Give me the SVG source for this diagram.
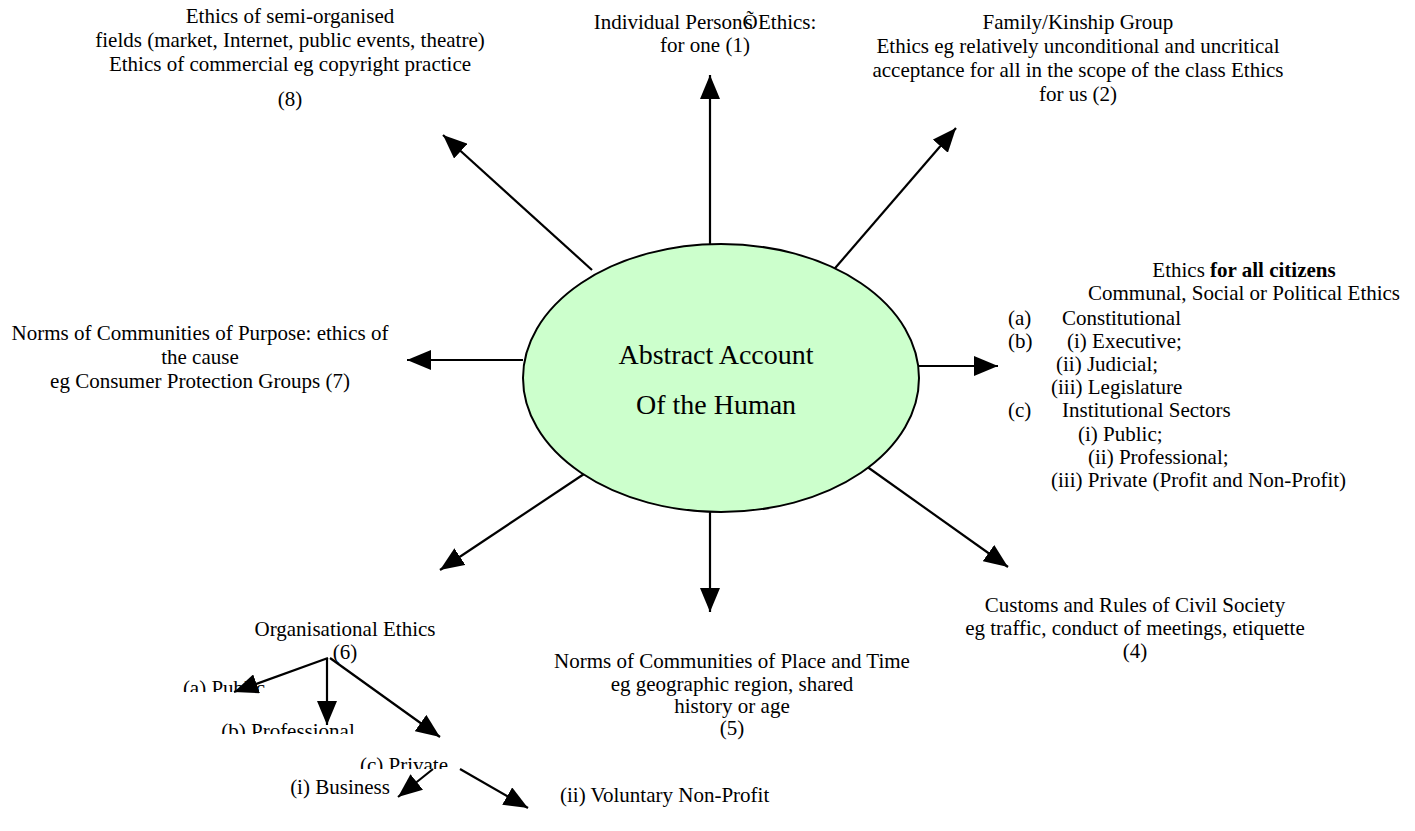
<svg xmlns="http://www.w3.org/2000/svg" width="1415" height="831" viewBox="0 0 1415 831">
<style>
text{font-family:"Liberation Serif","Times New Roman",serif;font-size:21px;fill:#000}
.c{text-anchor:middle}
.big{font-size:28px}
.ln{stroke:#000;stroke-width:2.2;fill:none;marker-end:url(#ah)}
</style>
<defs>
<marker id="ah" markerUnits="userSpaceOnUse" viewBox="0 0 24 20" markerWidth="24" markerHeight="20" refX="24" refY="10" orient="auto">
<path d="M0,0 L24,10 L0,20 Z" fill="#000"/>
</marker>
<clipPath id="cpA"><rect x="150" y="670" width="160" height="22"/></clipPath>
<clipPath id="cpB"><rect x="200" y="712" width="180" height="22"/></clipPath>
<clipPath id="cpC"><rect x="340" y="748" width="130" height="21"/></clipPath>
</defs>
<rect width="1415" height="831" fill="#fff"/>
<g id="connectors">
<line class="ln" x1="710" y1="244" x2="710" y2="75"/>
<line class="ln" x1="830" y1="274" x2="956" y2="128"/>
<line class="ln" x1="592" y1="270" x2="443" y2="135"/>
<line class="ln" x1="523" y1="360" x2="407" y2="360"/>
<line class="ln" x1="919" y1="366" x2="998" y2="366"/>
<line class="ln" x1="587" y1="472" x2="440" y2="570"/>
<line class="ln" x1="852" y1="456" x2="1008" y2="567"/>
<line class="ln" x1="710" y1="510" x2="710" y2="612"/>
<line class="ln" x1="328" y1="658" x2="234" y2="692"/>
<line class="ln" x1="327" y1="658" x2="327" y2="725"/>
<line class="ln" x1="330" y1="658" x2="440" y2="737"/>
<line class="ln" x1="433" y1="769" x2="398" y2="797"/>
<line class="ln" x1="460" y1="769" x2="528" y2="808"/>
</g>
<g id="center">
<ellipse cx="721" cy="378" rx="198" ry="134" fill="#ccffcc" stroke="#000" stroke-width="2"/>
<text class="c big" x="716" y="364">Abstract Account</text>
<text class="c big" x="716" y="414">Of the Human</text>
</g>
<g id="n1">
<text class="c" x="705" y="29">Individual PersonÕ<tspan dx="-13">s</tspan> Ethics:</text>
<text class="c" x="705" y="52">for one (1)</text>
</g>
<g id="n2">
<text class="c" x="1078" y="29">Family/Kinship Group</text>
<text class="c" x="1078" y="53">Ethics eg relatively unconditional and uncritical</text>
<text class="c" x="1078" y="77">acceptance for all in the scope of the class Ethics</text>
<text class="c" x="1078" y="101">for us  (2)</text>
</g>
<g id="n3">
<text class="c" x="1244" y="277">Ethics <tspan font-weight="bold">for all citizens</tspan></text>
<text x="1088" y="300">Communal, Social or Political Ethics</text>
<text x="1008" y="325">(a)</text><text x="1062" y="325">Constitutional</text>
<text x="1008" y="348">(b)</text><text x="1067" y="348">(i) Executive;</text>
<text x="1056" y="371">(ii) Judicial;</text>
<text x="1051" y="394">(iii) Legislature</text>
<text x="1008" y="417">(c)</text><text x="1062" y="417">Institutional Sectors</text>
<text x="1078" y="441">(i) Public;</text>
<text x="1088" y="464">(ii) Professional;</text>
<text x="1051" y="487">(iii) Private (Profit and Non-Profit)</text>
</g>
<g id="n4">
<text class="c" x="1135" y="612">Customs and Rules of Civil Society</text>
<text class="c" x="1135" y="635">eg traffic, conduct of meetings, etiquette</text>
<text class="c" x="1135" y="658">(4)</text>
</g>
<g id="n5">
<text class="c" x="732" y="668">Norms of Communities of Place and Time</text>
<text class="c" x="732" y="691">eg geographic region, shared</text>
<text class="c" x="732" y="713">history or age</text>
<text class="c" x="732" y="735">(5)</text>
</g>
<g id="n6">
<text class="c" x="345" y="636">Organisational Ethics</text>
<text class="c" x="345" y="659">(6)</text>
</g>
<g id="n6a"><text class="c" x="224" y="695" clip-path="url(#cpA)">(a) Public</text></g>
<g id="n6b"><text class="c" x="288" y="738" clip-path="url(#cpB)">(b) Professional</text></g>
<g id="n6c"><text class="c" x="404" y="772" clip-path="url(#cpC)">(c) Private</text></g>
<g id="n6ci"><text class="c" x="340" y="794">(i) Business</text></g>
<g id="n6cii"><text x="560" y="802">(ii) Voluntary Non-Profit</text></g>
<g id="n7">
<text class="c" x="200" y="340">Norms of Communities of Purpose: ethics of</text>
<text class="c" x="200" y="364">the cause</text>
<text class="c" x="200" y="388">eg Consumer Protection Groups (7)</text>
</g>
<g id="n8">
<text class="c" x="290" y="23">Ethics of semi-organised</text>
<text class="c" x="290" y="47">fields (market, Internet, public events, theatre)</text>
<text class="c" x="290" y="71">Ethics of commercial eg copyright practice</text>
<text class="c" x="290" y="106">(8)</text>
</g>
</svg>
